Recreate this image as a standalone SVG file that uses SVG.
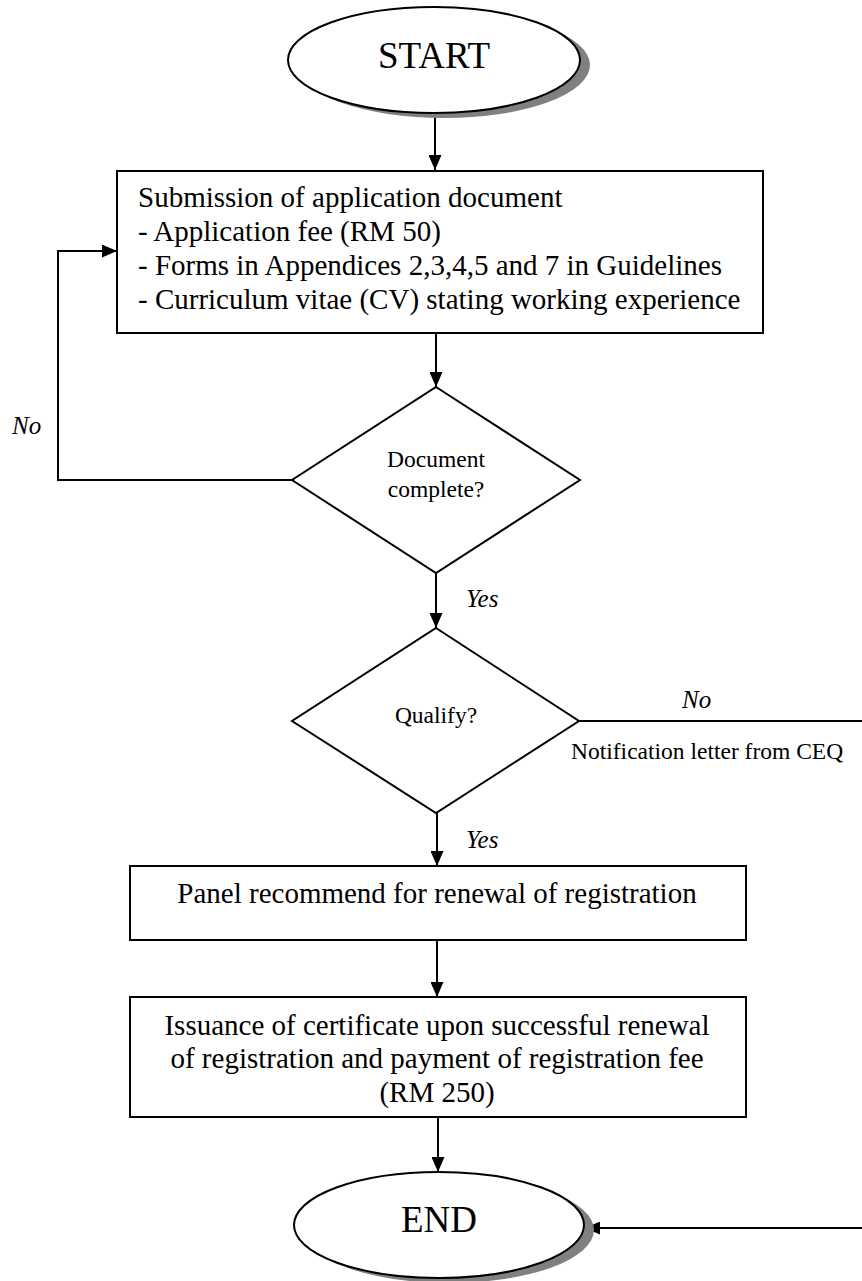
<svg xmlns="http://www.w3.org/2000/svg" width="862" height="1281" viewBox="0 0 862 1281">
<defs>
<style>
.shape{fill:#fff;stroke:#000;stroke-width:2}
.shadow{fill:#808080;stroke:none}
.t{font-family:"Liberation Serif","Times New Roman",serif;fill:#000}
.big{font-size:37px}
.body{font-size:29px}
.dia{font-size:23.5px}
.lbl{font-size:25px;font-style:italic}
.conn{fill:none;stroke:#000;stroke-width:2}
</style>
<marker id="arr" markerUnits="userSpaceOnUse" markerWidth="15" markerHeight="13" refX="15" refY="6.5" orient="auto">
<path d="M0,0 L15,6.5 L0,13 z" fill="#000"/>
</marker>
</defs>
<rect width="862" height="1281" fill="#fff"/>

<g id="connectors">
<path class="conn" d="M435,114 V170" marker-end="url(#arr)"/>
<path class="conn" d="M436,333 V387" marker-end="url(#arr)"/>
<path class="conn" d="M436,573 V628" marker-end="url(#arr)"/>
<path class="conn" d="M437,813 V866" marker-end="url(#arr)"/>
<path class="conn" d="M437,940 V997" marker-end="url(#arr)"/>
<path class="conn" d="M438,1117 V1172" marker-end="url(#arr)"/>
<path class="conn" d="M292,480 H58 V251 H117" marker-end="url(#arr)"/>
<path class="conn" d="M579,721 H868 V1228 H585" marker-end="url(#arr)"/>
<text class="t lbl" x="12" y="434">No</text>
<text class="t lbl" x="466" y="607">Yes</text>
<text class="t lbl" x="682" y="708">No</text>
<text class="t dia" x="571" y="759" font-size="24">Notification letter from CEQ</text>
<text class="t lbl" x="466" y="848">Yes</text>
</g>

<g id="start">
<ellipse class="shadow" cx="444" cy="65" rx="146" ry="53"/>
<ellipse class="shape" cx="434" cy="60" rx="146" ry="53"/>
<text class="t big" x="434" y="68" text-anchor="middle">START</text>
</g>

<g id="submission">
<rect class="shape" x="117" y="171" width="646" height="162"/>
<text class="t body" x="138" y="207">Submission of application document</text>
<text class="t body" x="138" y="241">- Application fee (RM 50)</text>
<text class="t body" x="138" y="275">- Forms in Appendices 2,3,4,5 and 7 in Guidelines</text>
<text class="t body" x="138" y="309">- Curriculum vitae (CV) stating working experience</text>
</g>

<g id="doc-complete">
<polygon class="shape" points="436,387 580,480 436,573 292,480"/>
<text class="t dia" x="436" y="467" text-anchor="middle">Document</text>
<text class="t dia" x="436" y="497" text-anchor="middle">complete?</text>
</g>

<g id="qualify">
<polygon class="shape" points="436,628 579,721 436,813 292,721"/>
<text class="t dia" x="436" y="723" text-anchor="middle">Qualify?</text>
</g>

<g id="panel">
<rect class="shape" x="130" y="866" width="616" height="74"/>
<text class="t body" x="437" y="903" text-anchor="middle">Panel recommend for renewal of registration</text>
</g>

<g id="issuance">
<rect class="shape" x="130" y="997" width="616" height="120"/>
<text class="t body" x="437" y="1035" text-anchor="middle">Issuance of certificate upon successful renewal</text>
<text class="t body" x="437" y="1068" text-anchor="middle">of registration and payment of registration fee</text>
<text class="t body" x="437" y="1102" text-anchor="middle">(RM 250)</text>
</g>

<g id="end">
<ellipse class="shadow" cx="449" cy="1230" rx="145" ry="53"/>
<ellipse class="shape" cx="439" cy="1225" rx="145" ry="53"/>
<text class="t big" x="439" y="1232" text-anchor="middle">END</text>
</g>
</svg>
